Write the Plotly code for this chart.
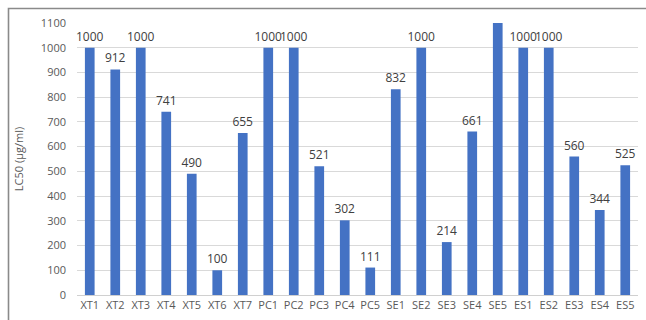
import plotly.graph_objects as go

# LC50 values per extract
categories = ["XT1", "XT2", "XT3", "XT4", "XT5", "XT6", "XT7",
              "PC1", "PC2", "PC3", "PC4", "PC5",
              "SE1", "SE2", "SE3", "SE4", "SE5",
              "ES1", "ES2", "ES3", "ES4", "ES5"]
lc50 = [1000, 912, 1000, 741, 490, 100, 655,
        1000, 1000, 521, 302, 111,
        832, 1000, 214, 661, 1100,
        1000, 1000, 560, 344, 525]
# SE5 exceeds the axis range, so its label is not shown
labels = [str(v) if c != "SE5" else "" for c, v in zip(categories, lc50)]
y_ticks = list(range(0, 1101, 100))

W, H = 646, 320
ML, MR, MT, MB = 77, 8, 23, 25
pw, ph = W - ML - MR, H - MT - MB

fig = go.Figure(go.Bar(
    x=categories, y=lc50, text=labels,
    textposition="outside", cliponaxis=False, constraintext="none",
    textfont=dict(size=12, color="#404040"),
    marker=dict(color="#4472C4", line=dict(width=0)),
    width=0.38,
))

# outer frame of the chart area
fig.add_shape(type="rect", xref="paper", yref="paper",
              x0=(8.5 - ML) / pw, x1=(W + 20 - ML) / pw,
              y0=-(MB + 20) / ph, y1=1 + (MT - 8.5) / ph,
              line=dict(color="#8a8a8a", width=1.6), layer="above")

fig.update_layout(
    width=W, height=H,
    margin=dict(l=ML, r=MR, t=MT, b=MB),
    paper_bgcolor="white", plot_bgcolor="white",
    font=dict(family="Open Sans, Liberation Sans, sans-serif", color="#595959", size=11),
    showlegend=False, bargap=0.6,
    xaxis=dict(tickfont=dict(size=11, color="#595959"), showgrid=False,
               showline=True, linecolor="#d0d0d0", linewidth=1, ticks="",
               range=[-0.5, len(categories) - 0.5]),
    yaxis=dict(range=[0, 1100], tickvals=y_ticks, tickfont=dict(size=11, color="#595959"),
               showgrid=True, gridcolor="#d9d9d9", gridwidth=1, zeroline=False,
               ticks="", ticklabelstandoff=10,
               title=dict(text="LC50 (μg/ml)", font=dict(size=11, color="#595959"), standoff=14)),
)

fig.write_html("out.html")
